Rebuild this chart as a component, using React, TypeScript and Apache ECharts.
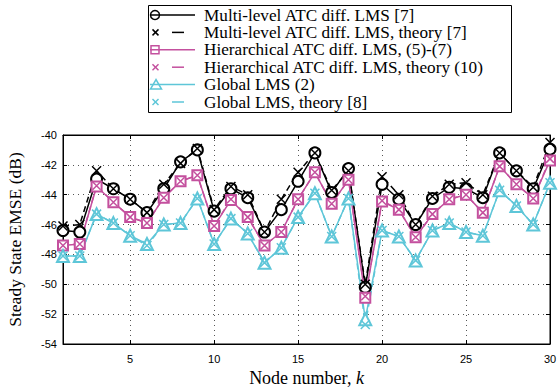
import React, { useEffect, useRef } from "react";
import * as echarts from "echarts";

const nodes = [1, 2, 3, 4, 5, 6, 7, 8, 9, 10, 11, 12, 13, 14, 15, 16, 17, 18, 19, 20, 21, 22, 23, 24, 25, 26, 27, 28, 29, 30];
const xTicks = [5, 10, 15, 20, 25, 30];

const multiSim = [-46.4, -46.5, -42.95, -43.6, -44.3, -45.2, -43.6, -41.8, -41.0, -45.1, -43.6, -44.2, -46.5, -45.0, -43.1, -41.2, -43.85, -42.25, -50.2, -43.3, -44.3, -46.0, -44.25, -43.5, -43.6, -44.2, -41.2, -42.4, -43.6, -40.95];
const multiTheory = [-46.1, -46.0, -42.4, -43.6, -44.3, -45.2, -43.3, -41.9, -40.9, -45.0, -43.45, -44.0, -46.5, -44.3, -42.5, -41.2, -43.7, -42.4, -50.0, -42.8, -44.0, -46.0, -44.1, -43.3, -43.2, -44.0, -41.2, -42.4, -43.5, -40.5];
const hierSim = [-47.4, -47.3, -43.45, -44.5, -45.5, -45.9, -44.2, -43.1, -42.7, -46.1, -44.35, -45.5, -47.4, -46.5, -44.3, -42.5, -44.6, -43.0, -50.9, -44.45, -45.0, -46.85, -45.3, -44.3, -44.0, -45.2, -42.1, -43.3, -44.25, -41.7];
const hierTheory = [-47.4, -47.3, -43.4, -44.5, -45.5, -45.9, -44.2, -43.1, -42.7, -46.1, -44.3, -45.5, -47.4, -46.5, -44.3, -42.5, -44.6, -43.0, -50.8, -44.4, -45.0, -46.85, -45.3, -44.3, -44.0, -45.2, -42.1, -43.3, -44.25, -41.6];
const globalSim = [-48.1, -48.1, -45.3, -45.9, -46.75, -47.3, -46.0, -45.9, -44.25, -47.3, -45.6, -46.6, -48.55, -47.55, -45.5, -43.9, -46.8, -44.25, -52.35, -46.4, -46.8, -48.4, -46.4, -45.9, -46.5, -46.75, -43.7, -44.75, -46.0, -43.2];
const globalTheory = [-48.1, -48.1, -45.3, -45.9, -46.75, -47.4, -46.0, -45.9, -44.25, -47.3, -45.6, -46.6, -48.55, -47.55, -45.5, -43.9, -46.8, -44.25, -52.7, -46.4, -46.8, -48.4, -46.4, -45.9, -46.5, -46.75, -43.7, -44.75, -46.0, -43.2];

const legendLabels = [
  "Multi-level ATC diff. LMS [7]",
  "Multi-level ATC diff. LMS, theory [7]",
  "Hierarchical ATC diff. LMS, (5)-(7)",
  "Hierarchical ATC diff. LMS, theory (10)",
  "Global LMS (2)",
  "Global LMS, theory [8]",
];

const BLACK = "#000000";
const PINK = "#c4509e";
const CYAN = "#5ec6d8";
const SERIF = "'Liberation Serif', 'Times New Roman', serif";
const SANS = "'Liberation Sans', Arial, sans-serif";
const CROSS = "path://M0,0L10,10M10,0L0,10";

export default function App() {
  const ref = useRef<HTMLDivElement>(null);
  useEffect(() => {
    const chart = echarts.init(ref.current!, null, { renderer: "svg" });

    const mk = (name: string, vals: number[], color: string, symbol: string, size: number, dashed: boolean) => ({
      name,
      type: "line",
      data: nodes.map((n, i) => [n, vals[i]]),
      symbol,
      symbolSize: size,
      showSymbol: true,
      lineStyle: { color, width: 1.5, type: dashed ? [6, 4] : "solid" },
      itemStyle: symbol === CROSS
        ? { color: "none", borderColor: color, borderWidth: 1.5 }
        : { color, borderColor: color, borderWidth: 1.5 },
      emphasis: { disabled: true },
      z: 3,
    });

    const series: any[] = [
      mk(legendLabels[0], multiSim, BLACK, "emptyCircle", 11, false),
      mk(legendLabels[1], multiTheory, BLACK, CROSS, 9, true),
      mk(legendLabels[2], hierSim, PINK, "emptyRect", 10, false),
      mk(legendLabels[3], hierTheory, PINK, CROSS, 8, true),
      mk(legendLabels[4], globalSim, CYAN, "emptyTriangle", 12, false),
      mk(legendLabels[5], globalTheory, CYAN, CROSS, 9, true),
    ];

    // legend drawn as graphic
    const colors = [BLACK, BLACK, PINK, PINK, CYAN, CYAN];
    const gfx: any[] = [
      { type: "rect", shape: { x: 148.5, y: 5.5, width: 363, height: 107 }, style: { fill: "#fff", stroke: "#000", lineWidth: 1 }, z: 10 },
    ];
    legendLabels.forEach((lab, i) => {
      const y = 15 + i * 17.4;
      const c = colors[i];
      const dashed = i % 2 === 1;
      if (dashed) {
        gfx.push({ type: "line", shape: { x1: 172, y1: y, x2: 184, y2: y }, style: { stroke: c, lineWidth: 1.5 }, z: 11 });
        gfx.push({ type: "line", shape: { x1: 152.5, y1: y - 3, x2: 158.5, y2: y + 3 }, style: { stroke: c, lineWidth: 1.5 }, z: 11 });
        gfx.push({ type: "line", shape: { x1: 158.5, y1: y - 3, x2: 152.5, y2: y + 3 }, style: { stroke: c, lineWidth: 1.5 }, z: 11 });
      } else {
        gfx.push({ type: "line", shape: { x1: 150, y1: y, x2: 195, y2: y }, style: { stroke: c, lineWidth: 1.5 }, z: 11 });
        if (i === 0) gfx.push({ type: "circle", shape: { cx: 155, cy: y, r: 4.5 }, style: { fill: "none", stroke: c, lineWidth: 1.5 }, z: 12 });
        if (i === 2) gfx.push({ type: "rect", shape: { x: 151, y: y - 4, width: 8, height: 8 }, style: { fill: "none", stroke: c, lineWidth: 1.5 }, z: 12 });
        if (i === 4) gfx.push({ type: "polygon", shape: { points: [[156, y - 5], [150.5, y + 4.5], [161.5, y + 4.5]] }, style: { fill: "none", stroke: c, lineWidth: 1.5 }, z: 12 });
      }
      gfx.push({
        type: "text", x: 204, y,
        style: { text: lab, fontFamily: SERIF, fontSize: 17.2, lineHeight: 17, fill: "#000", verticalAlign: "middle", align: "left" },
        z: 12,
      });
    });

    const gridLine = { show: true, lineStyle: { color: "#555", width: 1, type: [1, 4] } };

    chart.setOption({
      animation: false,
      backgroundColor: "#fff",
      grid: {
        left: 63, right: 8, top: 135, bottom: 43, show: true, borderColor: "#000", borderWidth: 1,
        backgroundColor: "transparent", outerBoundsMode: "none", containLabel: false,
      },
      xAxis: [
        {
          type: "value", min: 1, max: 30, position: "bottom",
          axisLine: { show: true, lineStyle: { color: "#000", width: 1 } },
          axisTick: { show: true, inside: true, length: 4, customValues: xTicks, lineStyle: { color: "#000" } },
          axisLabel: { customValues: xTicks, color: "#000", fontFamily: SANS, fontSize: 11, margin: 9 },
          splitLine: gridLine,
          name: "Node number, {i|k}",
          nameLocation: "middle",
          nameGap: 22,
          nameTextStyle: { fontFamily: SERIF, fontSize: 18, color: "#000", rich: { i: { fontFamily: SERIF, fontStyle: "italic", fontSize: 18, color: "#000" } } },
        },
        {
          type: "value", min: 1, max: 30, position: "top",
          axisLine: { show: true, lineStyle: { color: "#000" } },
          axisTick: { show: true, inside: true, length: 4, customValues: xTicks, lineStyle: { color: "#000" } },
          axisLabel: { show: false },
          splitLine: { show: false },
        },
      ],
      yAxis: [
        {
          type: "value", min: -54, max: -40, interval: 2, position: "left",
          axisLine: { show: true, lineStyle: { color: "#000", width: 1 } },
          axisTick: { show: true, inside: true, length: 4, lineStyle: { color: "#000" } },
          axisLabel: { color: "#000", fontFamily: SANS, fontSize: 11, margin: 6 },
          splitLine: gridLine,
          name: "Steady State EMSE (dB)",
          nameLocation: "middle",
          nameGap: 39,
          nameTextStyle: { fontFamily: SERIF, fontSize: 17.5, color: "#000" },
        },
        {
          type: "value", min: -54, max: -40, interval: 2, position: "right",
          axisLine: { show: true, lineStyle: { color: "#000" } },
          axisTick: { show: true, inside: true, length: 4, lineStyle: { color: "#000" } },
          axisLabel: { show: false },
          splitLine: { show: false },
        },
      ],
      series,
      graphic: gfx,
    });
    return () => chart.dispose();
  }, []);
  return <div ref={ref} style={{ width: 558, height: 387, position: "absolute", left: 0, top: 0 }} />;
}
